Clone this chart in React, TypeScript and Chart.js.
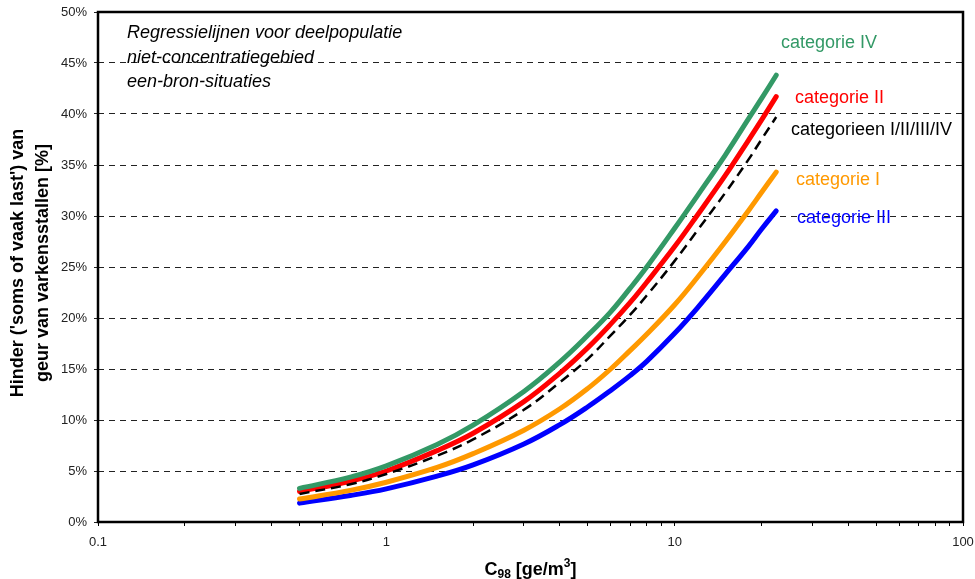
import React, { useEffect, useRef } from "react";
import { Chart, registerables } from "chart.js";

Chart.register(...registerables);

// ---- data ----
const C98 = [0.5, 0.75, 1, 1.5, 2, 3, 4, 5, 6, 7, 8, 10, 12, 15, 18, 20, 22.5];
const CAT_IV = [3.3, 4.4, 5.5, 7.6, 9.5, 12.8, 15.7, 18.3, 20.6, 22.9, 25.0, 28.8, 32.0, 36.0, 39.5, 41.5, 43.8];
const CAT_II = [3.0, 4.0, 5.0, 7.0, 8.7, 11.8, 14.6, 17.1, 19.4, 21.5, 23.5, 27.0, 30.1, 34.0, 37.4, 39.4, 41.7];
const CAT_ALL = [2.75, 3.7, 4.7, 6.5, 8.1, 11.0, 13.7, 16.0, 18.3, 20.3, 22.2, 25.6, 28.6, 32.3, 35.5, 37.5, 39.7];
const CAT_I = [2.25, 3.1, 3.9, 5.35, 6.7, 9.0, 11.1, 13.1, 15.0, 16.8, 18.4, 21.3, 24.0, 27.5, 30.5, 32.3, 34.3];
const CAT_III = [1.85, 2.6, 3.25, 4.5, 5.6, 7.65, 9.55, 11.3, 12.9, 14.35, 15.75, 18.5, 21.0, 24.3, 27.0, 28.7, 30.5];

const X_TICKS = [0.1, 0.2, 0.3, 0.4, 0.5, 0.6, 0.7, 0.8, 0.9, 1, 2, 3, 4, 5, 6, 7, 8, 9, 10, 20, 30, 40, 50, 60, 70, 80, 90, 100];
const X_MAJOR = [0.1, 1, 10, 100];
const X_MAJOR_LABELS = ["0.1", "1", "10", "100"];

const SERIES_NAMES = ["categorieen I/II/III/IV", "categorie IV", "categorie II", "categorie I", "categorie III"];
const SERIES_COLORS = ["#000000", "#339966", "#FF0000", "#FF9900", "#0000FF"];

const ANNOTATION = ["Regressielijnen voor deelpopulatie", "niet-concentratiegebied", "een-bron-situaties"];
const Y_TITLE = ["Hinder ('soms of vaak last') van", "geur van varkensstallen [%]"];

const FONT = "'Liberation Sans', Arial, Helvetica, sans-serif";

const pts = (ys: number[]) => C98.map((x, i) => ({ x, y: ys[i] }));

const overlayPlugin = {
  id: "overlay",
  afterDraw(chart: any) {
    const { ctx, chartArea } = chart;
    const { left, right, top, bottom } = chartArea;
    ctx.save();
    // frame
    ctx.strokeStyle = "#000";
    ctx.lineWidth = 2.5;
    ctx.setLineDash([]);
    ctx.strokeRect(left, top, right - left, bottom - top);

    // annotation
    ctx.fillStyle = "#000";
    ctx.font = `italic 18px ${FONT}`;
    ctx.textAlign = "left";
    ctx.textBaseline = "alphabetic";
    ANNOTATION.forEach((t, i) => ctx.fillText(t, 127, 38 + i * 24.5));

    // series labels
    ctx.font = `18px ${FONT}`;
    const lab = [
      { i: 1, x: 781, y: 48 },
      { i: 2, x: 795, y: 103 },
      { i: 0, x: 791, y: 135 },
      { i: 3, x: 796, y: 185 },
      { i: 4, x: 797, y: 223 },
    ];
    lab.forEach((l) => {
      ctx.fillStyle = SERIES_COLORS[l.i];
      ctx.fillText(SERIES_NAMES[l.i], l.x, l.y);
    });

    // y title
    ctx.fillStyle = "#000";
    ctx.font = `bold 18px ${FONT}`;
    ctx.textAlign = "center";
    ctx.textBaseline = "middle";
    const cy = (top + bottom) / 2 - 4;
    [18, 43].forEach((cx, i) => {
      ctx.save();
      ctx.translate(cx, cy);
      ctx.rotate(-Math.PI / 2);
      ctx.fillText(Y_TITLE[i], 0, 0);
      ctx.restore();
    });

    // x title: C98 [ge/m3]
    ctx.textAlign = "left";
    ctx.textBaseline = "alphabetic";
    const big = `bold 18px ${FONT}`;
    const small = `bold 12px ${FONT}`;
    const parts = [
      { t: "C", f: big, dy: 0 },
      { t: "98", f: small, dy: 3 },
      { t: " [ge/m", f: big, dy: 0 },
      { t: "3", f: small, dy: -8 },
      { t: "]", f: big, dy: 0 },
    ];
    let total = 0;
    parts.forEach((p) => {
      ctx.font = p.f;
      total += ctx.measureText(p.t).width;
    });
    let x = (left + right) / 2 - total / 2;
    const base = 575;
    parts.forEach((p) => {
      ctx.font = p.f;
      ctx.fillText(p.t, x, base + p.dy);
      x += ctx.measureText(p.t).width;
    });
    ctx.restore();
  },
};

export default function App() {
  const ref = useRef<HTMLCanvasElement | null>(null);
  useEffect(() => {
    if (!ref.current) return;
    const seriesData = [CAT_ALL, CAT_IV, CAT_II, CAT_I, CAT_III];
    const chart = new Chart(ref.current, {
      type: "line",
      data: {
        datasets: seriesData.map((d, i) => ({
          label: SERIES_NAMES[i],
          data: pts(d),
          borderColor: SERIES_COLORS[i],
          backgroundColor: SERIES_COLORS[i],
          borderWidth: i === 0 ? 2.5 : 5,
          borderDash: i === 0 ? [10, 6] : [],
          borderCapStyle: i === 0 ? "butt" : "round",
          borderJoinStyle: "round",
          pointRadius: 0,
          fill: false,
          tension: 0.4,
        })) as any,
      },
      options: {
        animation: false,
        responsive: false,
        maintainAspectRatio: false,
        layout: { padding: { top: 12, right: 12, left: 0, bottom: 0 } },
        plugins: { legend: { display: false }, tooltip: { enabled: false } },
        scales: {
          x: {
            type: "logarithmic",
            min: 0.1,
            max: 100,
            afterBuildTicks: (s: any) => {
              s.ticks = X_TICKS.map((v) => ({ value: v, major: X_MAJOR.includes(v) }));
            },
            afterFit: (s: any) => {
              s.height = 57;
              s.paddingLeft = 0;
              s.paddingRight = 0;
            },
            grid: { drawOnChartArea: false, drawTicks: true, tickLength: 4, color: "#000", lineWidth: 1 },
            border: { display: false },
            ticks: {
              autoSkip: false,
              maxRotation: 0,
              minRotation: 0,
              padding: 9,
              color: "#222",
              font: { family: FONT, size: 13 },
              callback: (v: any) => {
                const k = X_MAJOR.findIndex((m) => Math.abs(m - Number(v)) < 1e-9);
                return k >= 0 ? X_MAJOR_LABELS[k] : "";
              },
            },
          },
          y: {
            min: 0,
            max: 50,
            afterFit: (s: any) => {
              s.width = 98;
              s.paddingTop = 0;
              s.paddingBottom = 0;
            },
            grid: { color: "#222", lineWidth: 1, tickLength: 4, drawTicks: true },
            border: { display: false, dash: [6, 5] },
            ticks: {
              stepSize: 5,
              padding: 7,
              color: "#222",
              font: { family: FONT, size: 13 },
              callback: (v: any) => `${v}%`,
            },
          },
        },
      } as any,
      plugins: [overlayPlugin],
    });
    return () => chart.destroy();
  }, []);
  return (
    <div style={{ position: "fixed", left: 0, top: 0, width: 975, height: 579, background: "#fff" }}>
      <canvas ref={ref} width={975} height={579} style={{ display: "block" }} />
    </div>
  );
}
